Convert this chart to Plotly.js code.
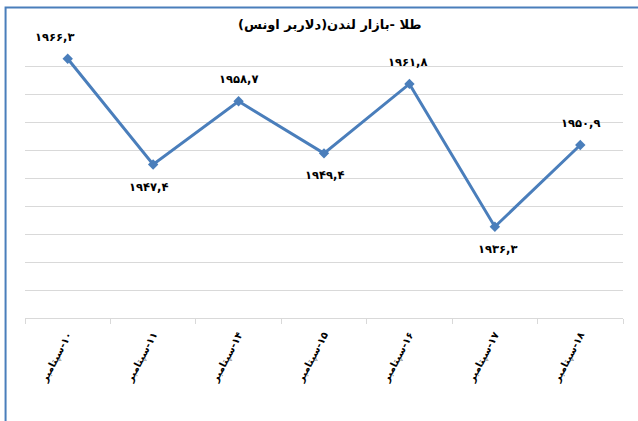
<!DOCTYPE html>
<html>
<head>
<meta charset="utf-8">
<script src="https://cdn.plot.ly/plotly-3.0.1.min.js"></script>
<style>html,body{margin:0;padding:0;background:#fff;}#chart{width:638px;height:421px;}</style>
</head>
<body>
<div id="chart"></div>
<script>
var RLM = '\u200F';
var days = ['۱۰', '۱۱', '۱۴', '۱۵', '۱۶', '۱۷', '۱۸'];
var month = 'سپتامبر';
var prices = [1966.3, 1947.4, 1958.7, 1949.4, 1961.8, 1936.3, 1950.9];
var priceLabels = ['۱۹۶۶,۳', '۱۹۴۷,۴', '۱۹۵۸,۷', '۱۹۴۹,۴', '۱۹۶۱,۸', '۱۹۳۶,۳', '۱۹۵۰,۹'];
var titleText = RLM + 'طلا -بازار لندن(دلاربر اونس)' + RLM;

var categories = days.map(function (d) { return RLM + d + '-' + month; });
var labelSide = [1, -1, 1, -1, 1, -1, 1];
var labelXShift = [-13, -5, 0, 0, -2, 3, 0];

var blue = '#4a7ebb';
var FONT = 'DejaVu Sans';

var trace = {
  x: categories,
  y: prices,
  type: 'scatter',
  mode: 'lines+markers',
  line: {color: blue, width: 3},
  marker: {symbol: 'diamond', size: 8, color: blue},
  hoverinfo: 'skip'
};

var annotations = prices.map(function (v, i) {
  return {
    x: categories[i], y: v, xref: 'x', yref: 'y',
    text: priceLabels[i], showarrow: false,
    xshift: labelXShift[i], yshift: labelSide[i] * 22,
    font: {family: FONT, size: 11.5, color: '#000', weight: 'bold'}
  };
});

var layout = {
  width: 638, height: 421,
  margin: {l: 25, r: 15, t: 37.5, b: 103, pad: 0},
  paper_bgcolor: '#fff', plot_bgcolor: '#fff',
  showlegend: false,
  title: {
    text: titleText, xref: 'container', x: 0.517, yref: 'container', y: 0.943,
    xanchor: 'center', yanchor: 'middle',
    font: {family: FONT, size: 13, color: '#000', weight: 'bold'}
  },
  xaxis: {
    type: 'category', range: [-0.5, 6.5],
    showgrid: false, zeroline: false,
    showline: true, linecolor: '#d9d9d9', linewidth: 1,
    ticks: 'outside', tickson: 'boundaries', ticklen: 5, tickcolor: '#d9d9d9', tickwidth: 1,
    tickangle: -62,
    ticklabelstandoff: 6,
    tickfont: {family: FONT, size: 10, color: '#000', weight: 'bold'},
    fixedrange: true
  },
  yaxis: {
    range: [1920, 1970], dtick: 5, tick0: 1920,
    showgrid: true, gridcolor: '#d9d9d9', gridwidth: 1,
    zeroline: false, showline: false, showticklabels: false, ticks: '',
    fixedrange: true
  },
  annotations: annotations,
  shapes: [{
    type: 'rect', xref: 'paper', yref: 'paper',
    x0: -0.0325, x1: 1.2, y0: -0.6, y1: 1.1087,
    line: {color: blue, width: 2}, fillcolor: 'rgba(0,0,0,0)', layer: 'below'
  }]
};

Plotly.newPlot('chart', [trace], layout, {displayModeBar: false, staticPlot: true});
</script>
</body>
</html>
